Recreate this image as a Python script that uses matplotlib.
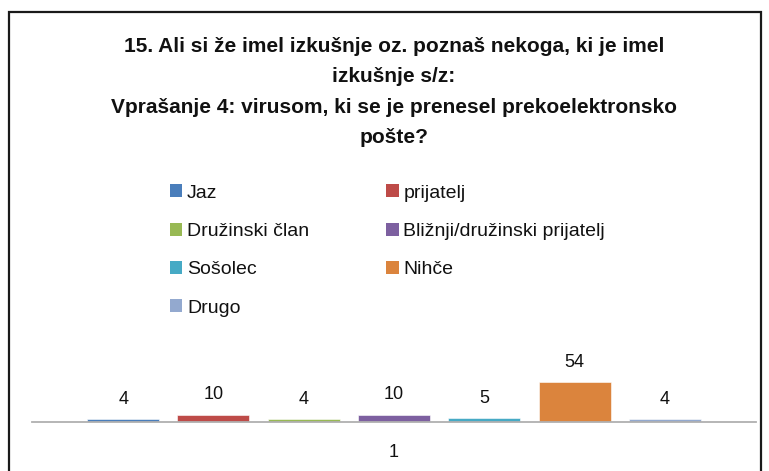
import matplotlib
matplotlib.use("Agg")
import matplotlib.pyplot as plt
from matplotlib.patches import Rectangle, Patch

plt.rcParams['font.family'] = ['Liberation Sans', 'DejaVu Sans']

# Odgovori na vprašanje 15/4
categories = ["Jaz", "prijatelj", "Družinski član", "Bližnji/družinski prijatelj",
              "Sošolec", "Nihče", "Drugo"]
values = [4, 10, 4, 10, 5, 54, 4]
colors = ["#4A7EBB", "#BE4B48", "#98B954", "#7D60A0", "#46AAC5", "#DB843D", "#93A9CF"]
group_label = "1"
title = ("15. Ali si že imel izkušnje oz. poznaš nekoga, ki je imel\n"
         "izkušnje s/z:\n"
         "Vprašanje 4: virusom, ki se je prenesel prekoelektronsko\n"
         "pošte?")

W, H = 769, 471
fig = plt.figure(figsize=(W / 100, H / 100), dpi=100)

# chart border
fig.patches.append(Rectangle((9 / W, -0.05), 752 / W, 1.05 - 12 / H,
                             transform=fig.transFigure, fill=False,
                             edgecolor="#1a1a1a", linewidth=1.6))

fig.text(394 / W, 1 - 92 / H, title, ha="center", va="center",
         fontsize=15, fontweight="bold", linespacing=1.75, color="#111111")

# plot area
ax = fig.add_axes([32 / W, (H - 422) / H, 724 / W, 82 / H])
n = len(values)
step = 0.1247
width = 0.0994
xs = [(i - (n - 1) / 2) * step for i in range(n)]
bars = ax.bar(xs, values, width=width, color=colors, edgecolor="white", linewidth=0.4)
for x, v in zip(xs, values):
    ax.annotate(str(v), (x, v), xytext=(0, 8), textcoords="offset points",
                ha="center", va="bottom", fontsize=13, color="#111111")

ax.set_xlim(-0.5, 0.5)
ax.set_ylim(0, 54 * 82 / 40)
for s in ["top", "right", "left"]:
    ax.spines[s].set_visible(False)
ax.spines["bottom"].set_color("#b0b0b0")
ax.spines["bottom"].set_linewidth(1.3)
ax.set_yticks([])
ax.set_xticks([0])
ax.set_xticklabels([group_label], fontsize=13, color="#111111")
ax.tick_params(axis="x", length=0, pad=16)

# legend, row by row in two columns
handles = [Patch(facecolor=c, edgecolor="none") for c in colors]
order = list(range(0, n, 2)) + list(range(1, n, 2))
fig.legend([handles[i] for i in order], [categories[i] for i in order],
           ncol=2, frameon=False, loc="upper left",
           bbox_to_anchor=(152 / W, 1 - 167 / H),
           fontsize=14, handlelength=0.65, handleheight=0.65,
           handletextpad=0.25, columnspacing=3.95, labelspacing=1.08,
           labelcolor="#111111")

fig.savefig("out.png", dpi=100)
